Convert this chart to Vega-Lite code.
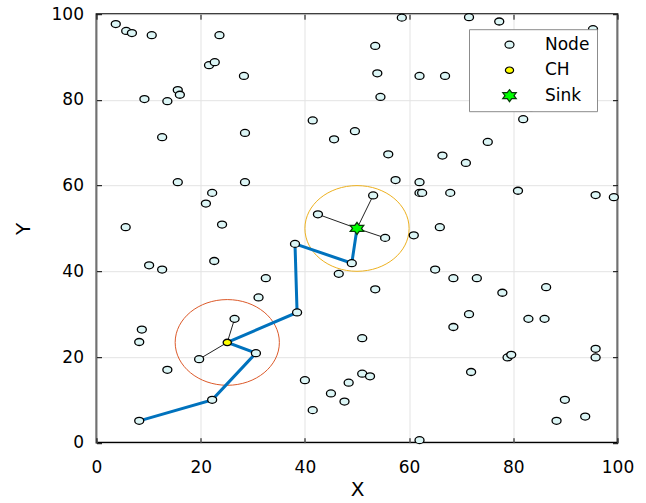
{
  "$schema": "https://vega.github.io/schema/vega-lite/v6.json",
  "width": 521,
  "height": 428.5,
  "autosize": "none",
  "padding": {"left": 96.5, "top": 14.2, "right": 28.5, "bottom": 60.3},
  "background": "white",
  "datasets": {
    "nodes": [
      {"x": 3.7, "y": 97.7, "t": "Node"}, {"x": 5.7, "y": 96.1, "t": "Node"}, {"x": 6.8, "y": 95.6, "t": "Node"},
      {"x": 10.6, "y": 95.1, "t": "Node"}, {"x": 23.6, "y": 95.1, "t": "Node"}, {"x": 21.6, "y": 88.1, "t": "Node"},
      {"x": 22.7, "y": 88.8, "t": "Node"}, {"x": 28.3, "y": 85.6, "t": "Node"}, {"x": 9.2, "y": 80.2, "t": "Node"},
      {"x": 13.6, "y": 79.7, "t": "Node"}, {"x": 15.6, "y": 82.3, "t": "Node"}, {"x": 16.0, "y": 81.2, "t": "Node"},
      {"x": 12.6, "y": 71.3, "t": "Node"}, {"x": 28.5, "y": 72.3, "t": "Node"},
      {"x": 58.6, "y": 99.2, "t": "Node"}, {"x": 53.5, "y": 92.6, "t": "Node"}, {"x": 53.9, "y": 86.2, "t": "Node"},
      {"x": 62.0, "y": 85.6, "t": "Node"}, {"x": 66.9, "y": 85.6, "t": "Node"}, {"x": 54.5, "y": 80.7, "t": "Node"},
      {"x": 41.5, "y": 75.2, "t": "Node"}, {"x": 49.6, "y": 72.7, "t": "Node"}, {"x": 45.6, "y": 70.8, "t": "Node"},
      {"x": 56.0, "y": 67.3, "t": "Node"}, {"x": 66.4, "y": 67.0, "t": "Node"},
      {"x": 71.5, "y": 99.3, "t": "Node"}, {"x": 77.3, "y": 98.3, "t": "Node"}, {"x": 95.3, "y": 96.5, "t": "Node"},
      {"x": 83.4, "y": 78.2, "t": "Node"}, {"x": 81.9, "y": 75.5, "t": "Node"}, {"x": 75.1, "y": 70.2, "t": "Node"},
      {"x": 15.6, "y": 60.8, "t": "Node"}, {"x": 28.5, "y": 60.8, "t": "Node"}, {"x": 22.2, "y": 58.3, "t": "Node"},
      {"x": 21.0, "y": 55.8, "t": "Node"}, {"x": 5.6, "y": 50.3, "t": "Node"}, {"x": 24.1, "y": 50.9, "t": "Node"},
      {"x": 10.1, "y": 41.4, "t": "Node"}, {"x": 12.6, "y": 40.4, "t": "Node"}, {"x": 22.6, "y": 42.4, "t": "Node"},
      {"x": 32.5, "y": 38.4, "t": "Node"}, {"x": 31.1, "y": 33.9, "t": "Node"},
      {"x": 57.4, "y": 61.3, "t": "Node"}, {"x": 62.0, "y": 60.8, "t": "Node"}, {"x": 62.0, "y": 58.3, "t": "Node"},
      {"x": 62.5, "y": 58.3, "t": "Node"}, {"x": 67.9, "y": 58.3, "t": "Node"}, {"x": 53.1, "y": 57.7, "t": "Node"},
      {"x": 42.5, "y": 53.3, "t": "Node"}, {"x": 55.4, "y": 47.8, "t": "Node"}, {"x": 60.9, "y": 48.4, "t": "Node"},
      {"x": 65.9, "y": 50.3, "t": "Node"}, {"x": 38.1, "y": 46.4, "t": "Node"}, {"x": 49.0, "y": 41.9, "t": "Node"},
      {"x": 46.5, "y": 39.4, "t": "Node"}, {"x": 65.0, "y": 40.4, "t": "Node"}, {"x": 68.5, "y": 38.4, "t": "Node"},
      {"x": 53.5, "y": 35.8, "t": "Node"},
      {"x": 70.9, "y": 65.3, "t": "Node"}, {"x": 80.9, "y": 58.8, "t": "Node"}, {"x": 95.8, "y": 57.8, "t": "Node"},
      {"x": 99.3, "y": 57.3, "t": "Node"}, {"x": 73.0, "y": 38.4, "t": "Node"}, {"x": 77.9, "y": 35.0, "t": "Node"},
      {"x": 86.3, "y": 36.3, "t": "Node"},
      {"x": 8.7, "y": 26.4, "t": "Node"}, {"x": 8.2, "y": 23.5, "t": "Node"}, {"x": 13.6, "y": 17.0, "t": "Node"},
      {"x": 26.5, "y": 28.9, "t": "Node"}, {"x": 19.7, "y": 19.5, "t": "Node"}, {"x": 30.6, "y": 20.9, "t": "Node"},
      {"x": 22.2, "y": 10.0, "t": "Node"}, {"x": 8.2, "y": 5.1, "t": "Node"},
      {"x": 38.5, "y": 30.4, "t": "Node"}, {"x": 51.0, "y": 24.4, "t": "Node"}, {"x": 68.5, "y": 27.0, "t": "Node"},
      {"x": 40.0, "y": 14.6, "t": "Node"}, {"x": 48.4, "y": 14.0, "t": "Node"}, {"x": 51.0, "y": 16.1, "t": "Node"},
      {"x": 52.5, "y": 15.5, "t": "Node"}, {"x": 45.0, "y": 11.5, "t": "Node"}, {"x": 47.6, "y": 9.6, "t": "Node"},
      {"x": 41.5, "y": 7.6, "t": "Node"}, {"x": 62.0, "y": 0.6, "t": "Node"},
      {"x": 71.5, "y": 30.0, "t": "Node"}, {"x": 82.9, "y": 28.9, "t": "Node"}, {"x": 86.0, "y": 28.9, "t": "Node"},
      {"x": 95.8, "y": 21.9, "t": "Node"}, {"x": 95.8, "y": 19.9, "t": "Node"}, {"x": 78.9, "y": 19.9, "t": "Node"},
      {"x": 79.6, "y": 20.5, "t": "Node"}, {"x": 71.9, "y": 16.5, "t": "Node"}, {"x": 89.9, "y": 10.0, "t": "Node"},
      {"x": 88.3, "y": 5.1, "t": "Node"}, {"x": 93.8, "y": 6.1, "t": "Node"},
      {"x": 25.1, "y": 23.4, "t": "CH"},
      {"x": 50.0, "y": 50.0, "t": "Sink"}
    ],
    "ringCH": [
      {"x": 25.1, "y": 23.4}
    ],
    "ringSink": [
      {"x": 50.0, "y": 50.0}
    ],
    "links": [
      {"x": 25.1, "y": 23.4, "x2": 26.5, "y2": 28.9},
      {"x": 25.1, "y": 23.4, "x2": 19.7, "y2": 19.5},
      {"x": 50.0, "y": 50.0, "x2": 53.1, "y2": 57.7},
      {"x": 50.0, "y": 50.0, "x2": 42.5, "y2": 53.3},
      {"x": 50.0, "y": 50.0, "x2": 55.4, "y2": 47.8}
    ],
    "route": [
      {"o": 1, "x": 50.0, "y": 50.0},
      {"o": 2, "x": 49.0, "y": 41.9},
      {"o": 3, "x": 38.1, "y": 46.4},
      {"o": 4, "x": 38.5, "y": 30.4},
      {"o": 5, "x": 25.1, "y": 23.4},
      {"o": 6, "x": 30.6, "y": 20.9},
      {"o": 7, "x": 22.2, "y": 10.0},
      {"o": 8, "x": 8.2, "y": 5.1}
    ]
  },
  "config": {
    "view": {"stroke": "black", "strokeWidth": 1.8},
    "font": "DejaVu Sans",
    "axis": {
      "domain": false,
      "gridColor": "#e3e3e3",
      "gridWidth": 1,
      "tickColor": "black",
      "tickWidth": 1,
      "labelFlush": false,
      "labelFont": "DejaVu Sans",
      "labelFontSize": 17,
      "labelColor": "black",
      "titleFont": "DejaVu Sans",
      "titleFontSize": 20,
      "titleFontWeight": "normal",
      "titleColor": "black"
    },
    "legend": {
      "orient": "none",
      "legendX": 372.5,
      "legendY": 15,
      "padding": 7,
      "fillColor": "white",
      "strokeColor": "#8c8c8c",
      "symbolSize": 100,
      "symbolOffset": 25,
      "labelOffset": 27,
      "labelFont": "DejaVu Sans",
      "labelFontSize": 17,
      "labelColor": "black",
      "rowPadding": 7.5,
      "symbolStrokeWidth": 1.2,
      "title": null
    }
  },
  "resolve": {"axis": {"x": "independent", "y": "independent"}},
  "layer": [
    {
      "data": {"name": "ringCH"},
      "mark": {
        "type": "point",
        "filled": false,
        "shape": "M-1,0A1,0.8225,0,1,0,1,0A1,0.8225,0,1,0,-1,0Z",
        "size": 10858,
        "stroke": "#DC5A2A",
        "strokeWidth": 1,
        "opacity": 1
      },
      "encoding": {
        "x": {"field": "x", "type": "quantitative", "scale": {"domain": [0, 100], "nice": false, "zero": false},
              "axis": {"orient": "top", "labels": false, "title": null, "grid": false, "tickSize": -5, "values": [0, 20, 40, 60, 80, 100]}},
        "y": {"field": "y", "type": "quantitative", "scale": {"domain": [0, 100], "nice": false, "zero": false},
              "axis": {"orient": "right", "labels": false, "title": null, "grid": false, "tickSize": -5, "values": [0, 20, 40, 60, 80, 100]}}
      }
    },
    {
      "data": {"name": "ringSink"},
      "mark": {
        "type": "point",
        "filled": false,
        "shape": "M-1,0A1,0.8225,0,1,0,1,0A1,0.8225,0,1,0,-1,0Z",
        "size": 10858,
        "stroke": "#EDB120",
        "strokeWidth": 1,
        "opacity": 1
      },
      "encoding": {
        "x": {"field": "x", "type": "quantitative", "axis": null},
        "y": {"field": "y", "type": "quantitative", "axis": null}
      }
    },
    {
      "data": {"name": "links"},
      "mark": {"type": "rule", "color": "#222222", "strokeWidth": 1},
      "encoding": {
        "x": {"field": "x", "type": "quantitative", "axis": null},
        "y": {"field": "y", "type": "quantitative", "axis": null},
        "x2": {"field": "x2"},
        "y2": {"field": "y2"}
      }
    },
    {
      "data": {"name": "route"},
      "mark": {"type": "line", "color": "#0072BD", "strokeWidth": 3},
      "encoding": {
        "x": {"field": "x", "type": "quantitative", "axis": null},
        "y": {"field": "y", "type": "quantitative", "axis": null},
        "order": {"field": "o", "type": "quantitative"}
      }
    },
    {
      "data": {"name": "nodes"},
      "mark": {"type": "point", "filled": true, "size": 100, "strokeWidth": 1.3, "opacity": 1},
      "encoding": {
        "x": {"field": "x", "type": "quantitative",
              "axis": {"title": "X", "grid": true, "tickSize": -5, "values": [0, 20, 40, 60, 80, 100], "labelPadding": 22, "titlePadding": 4}},
        "y": {"field": "y", "type": "quantitative",
              "axis": {"title": "Y", "grid": true, "tickSize": -5, "values": [0, 20, 40, 60, 80, 100], "labelPadding": 18, "titlePadding": 18}},
        "fill": {"field": "t", "type": "nominal", "scale": {"domain": ["Node", "CH", "Sink"], "range": ["#dcf6f6", "#ffff00", "#00ff00"]}},
        "stroke": {"field": "t", "type": "nominal", "scale": {"domain": ["Node", "CH", "Sink"], "range": ["#000000", "#000000", "#0a3a0a"]}},
        "shape": {"field": "t", "type": "nominal", "scale": {"domain": ["Node", "CH", "Sink"], "range": [
          "M-0.9,0A0.9,0.7,0,1,0,0.9,0A0.9,0.7,0,1,0,-0.9,0Z",
          "M-0.82,0A0.82,0.64,0,1,0,0.82,0A0.82,0.64,0,1,0,-0.82,0Z",
          "M0,-1.2L0.45,-0.6L1.35,-0.6L0.9,0L1.35,0.6L0.45,0.6L0,1.2L-0.45,0.6L-1.35,0.6L-0.9,0L-1.35,-0.6L-0.45,-0.6Z"
        ]}}
      }
    }
  ]
}
